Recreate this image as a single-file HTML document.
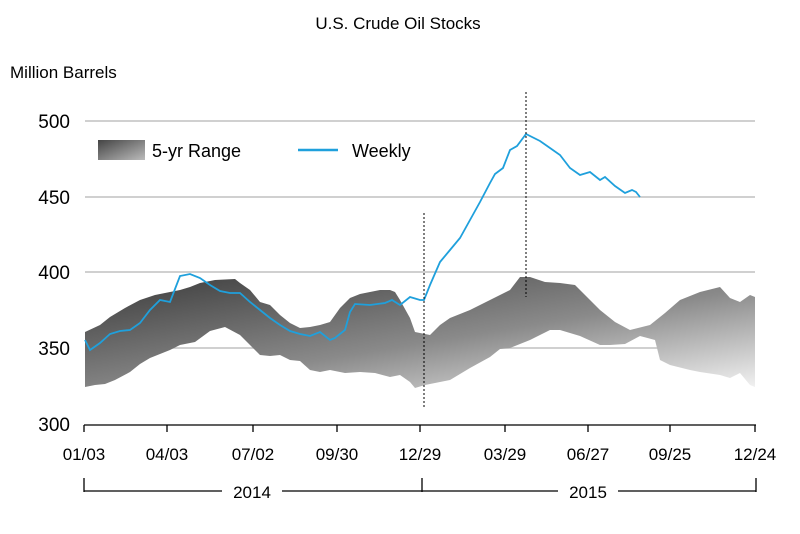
<!DOCTYPE html>
<html><head><style>body{margin:0;background:#fff}svg{display:block;font-family:"Liberation Sans",Arial,sans-serif}</style></head><body>
<svg width="800" height="534" viewBox="0 0 800 534">
<defs>
<linearGradient id="g" x1="0" y1="0" x2="1" y2="1" gradientUnits="objectBoundingBox">
<stop offset="0" stop-color="#3a3a3a"/><stop offset="0.55" stop-color="#8a8a8a"/><stop offset="1" stop-color="#f2f2f2"/></linearGradient>
<linearGradient id="lg" x1="0" y1="0" x2="1" y2="1"><stop offset="0" stop-color="#444"/><stop offset="1" stop-color="#bbb"/></linearGradient>
</defs>
<text x="398" y="29" font-size="17" text-anchor="middle" fill="#000">U.S. Crude Oil Stocks</text>
<text x="10" y="78" font-size="17" fill="#000">Million Barrels</text>
<g stroke="#c0c0c0" stroke-width="1.5">
<line x1="85" y1="121" x2="755" y2="121"/><line x1="85" y1="197" x2="755" y2="197"/><line x1="85" y1="272" x2="755" y2="272"/><line x1="85" y1="348" x2="755" y2="348"/>
</g>
<g font-size="19" fill="#000" text-anchor="end">
<text x="70" y="128">500</text><text x="70" y="204">450</text><text x="70" y="279">400</text><text x="70" y="355">350</text><text x="70" y="431">300</text>
</g>
<polygon fill="url(#g)" points="85,332 100,325 110,317 125,308 140,300 155,295 170,292 180,290 190,287 200,283 215,280 235,279 240,283 250,290 260,302 270,305 280,315 290,323 300,328 310,327 320,325 330,322 340,308 350,298 360,294 380,290 390,290 395,292 400,300 410,318 415,332 425,334 430,335 440,325 450,318 470,310 490,300 510,290 520,277 530,277 545,282 560,283 575,285 590,300 600,310 615,322 630,330 650,325 665,313 680,300 700,292 720,287 730,298 740,302 750,295 755,297 755,387 750,385 740,373 730,378 720,375 700,372 690,370 670,365 660,360 655,340 640,336 625,344 610,345 600,345 580,336 560,330 550,330 530,340 510,348 500,349 490,357 470,368 450,380 440,382 425,385 415,388 410,382 400,375 390,377 375,373 360,372 345,373 330,370 320,372 310,370 300,361 290,360 280,355 270,356 260,355 250,345 240,335 225,327 210,331 195,342 180,345 170,350 160,354 150,358 140,364 130,372 115,380 105,384 95,385 85,387"/>
<polyline fill="none" stroke="#1fa0dc" stroke-width="1.8" points="85,340 90,350 100,343 110,334 120,331 130,330 140,323 150,310 160,300 170,302 175,289 180,276 190,274 200,278 210,285 220,291 230,293 240,293 250,302 260,310 270,318 280,325 290,331 300,334 310,336 320,332 330,340 335,338 345,330 350,312 355,304 370,305 385,303 392,300 400,305 410,297 420,300 424,300 430,285 440,262 450,250 460,238 470,220 480,202 490,183 495,174 503,168 510,150 517,146 526,134 540,141 550,148 560,155 570,168 580,175 590,172 600,180 605,177 615,186 625,193 632,190 636,192 640,197"/>
<g stroke="#000" stroke-width="1" stroke-dasharray="2,2">
<line x1="424" y1="213" x2="424" y2="409"/><line x1="526" y1="92" x2="526" y2="297"/>
</g>
<rect x="98" y="140" width="47" height="20" fill="url(#lg)"/>
<text x="152" y="157" font-size="18" fill="#000">5-yr Range</text>
<line x1="298" y1="150" x2="338" y2="150" stroke="#1fa0dc" stroke-width="2.5"/>
<text x="352" y="157" font-size="18" fill="#000">Weekly</text>
<g stroke="#000" stroke-width="1.3">
<line x1="84" y1="425" x2="756" y2="425"/>
<line x1="84" y1="425" x2="84" y2="432"/><line x1="167" y1="425" x2="167" y2="432"/><line x1="253" y1="425" x2="253" y2="432"/><line x1="337" y1="425" x2="337" y2="432"/><line x1="420" y1="425" x2="420" y2="432"/><line x1="505" y1="425" x2="505" y2="432"/><line x1="588" y1="425" x2="588" y2="432"/><line x1="670" y1="425" x2="670" y2="432"/><line x1="755" y1="425" x2="755" y2="432"/>
<line x1="84" y1="478" x2="84" y2="492"/><line x1="422" y1="478" x2="422" y2="492"/><line x1="756" y1="478" x2="756" y2="492"/>
<line x1="84" y1="491" x2="222" y2="491"/><line x1="282" y1="491" x2="558" y2="491"/><line x1="618" y1="491" x2="756" y2="491"/>
</g>
<g font-size="17" fill="#000" text-anchor="middle">
<text x="84" y="460">01/03</text><text x="167" y="460">04/03</text><text x="253" y="460">07/02</text><text x="337" y="460">09/30</text><text x="420" y="460">12/29</text><text x="505" y="460">03/29</text><text x="588" y="460">06/27</text><text x="670" y="460">09/25</text><text x="755" y="460">12/24</text>
<text x="252" y="498">2014</text><text x="588" y="498">2015</text>
</g>
</svg>
</body></html>
